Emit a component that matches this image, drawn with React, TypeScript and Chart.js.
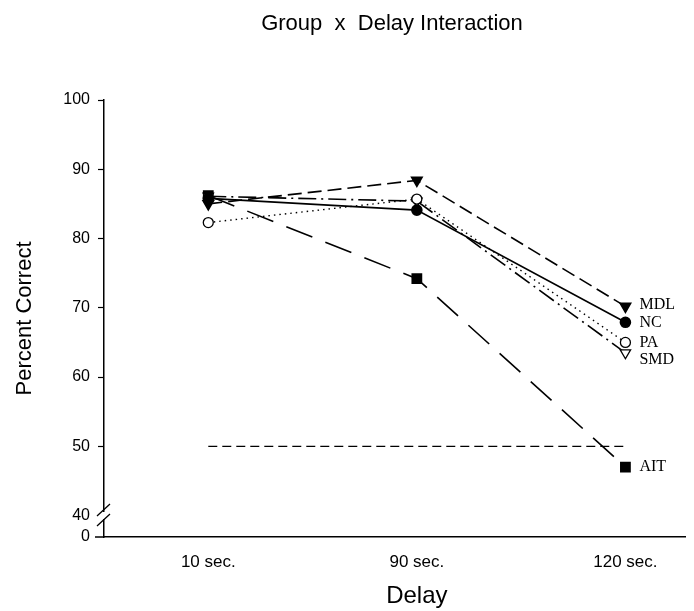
import React, { useEffect, useRef } from "react";
import { Chart, registerables } from "chart.js";

Chart.register(...registerables);

const categories = ["10 sec.", "90 sec.", "120 sec."];
const seriesNames = ["MDL", "NC", "PA", "SMD", "AIT"];
const mdlValues = [85.0, 88.4, 70.2];
const ncValues = [85.8, 84.1, 67.9];
const paValues = [82.3, 85.7, 65.0];
const smdValues = [86.1, 85.4, 63.5];
const aitValues = [86.2, 74.2, 47.0];
const chanceValues = [50, 50, 50];
const yTickValues = [40, 50, 60, 70, 80, 90, 100];
const breakLabel = "0";
const titleText = "Group  x  Delay Interaction";
const xTitleText = "Delay";
const yTitleText = "Percent Correct";

const SANS = "'Liberation Sans', Arial, sans-serif";
const SERIF = "'Liberation Serif', 'Times New Roman', serif";
const Y_MIN = 36.9;

const toPts = (arr: number[]) => arr.map((v, i) => ({ x: i, y: v }));

export default function App() {
  const ref = useRef<HTMLCanvasElement | null>(null);

  useEffect(() => {
    if (!ref.current) return;

    const labelOffsets: Record<string, number> = { MDL: -2, NC: 0, PA: 0, SMD: 7, AIT: 0 };

    const overlay = {
      id: "overlay",
      afterDraw(chart: any) {
        const ctx = chart.ctx;
        const area = chart.chartArea;
        const xs = chart.scales.x;
        const ys = chart.scales.y;
        ctx.save();
        ctx.fillStyle = "#000";
        // title
        ctx.font = `22px ${SANS}`;
        ctx.textAlign = "center";
        ctx.textBaseline = "alphabetic";
        ctx.fillText(titleText, 392, 30);
        // x title
        ctx.font = `24px ${SANS}`;
        ctx.fillText(xTitleText, xs.getPixelForValue(1), 603);
        // series labels
        ctx.font = `16px ${SERIF}`;
        ctx.textAlign = "left";
        ctx.textBaseline = "middle";
        const series = [mdlValues, ncValues, paValues, smdValues, aitValues];
        series.forEach((vals, i) => {
          const last = vals.length - 1;
          const px = xs.getPixelForValue(last) + 14;
          const py = ys.getPixelForValue(vals[last]) + (labelOffsets[seriesNames[i]] || 0);
          ctx.fillText(seriesNames[i], px, py);
        });
        // axis break
        const b = area.bottom;
        const l = area.left;
        ctx.fillStyle = "#fff";
        ctx.fillRect(l - 2, b - 25, 4, 7);
        ctx.strokeStyle = "#000";
        ctx.lineWidth = 1.3;
        ctx.beginPath();
        ctx.moveTo(l - 7, b - 21);
        ctx.lineTo(l + 6, b - 33);
        ctx.moveTo(l - 7, b - 11);
        ctx.lineTo(l + 6, b - 23);
        ctx.stroke();
        // x-axis stub left of y-axis
        ctx.lineWidth = 1.5;
        ctx.beginPath();
        ctx.moveTo(l - 9, b);
        ctx.lineTo(l, b);
        ctx.stroke();
        ctx.restore();
      },
    };

    const chart = new Chart(ref.current, {
      type: "line",
      data: {
        datasets: [
          {
            label: "MDL",
            data: toPts(mdlValues),
            borderColor: "#000",
            borderWidth: 1.6,
            borderDash: [14, 6],
            pointStyle: "triangle",
            pointRotation: 180,
            pointRadius: 6,
            backgroundColor: "#000",
            pointBackgroundColor: "#000",
            pointBorderColor: "#000",
          },
          {
            label: "NC",
            data: toPts(ncValues),
            borderColor: "#000",
            borderWidth: 1.6,
            pointStyle: "circle",
            pointRadius: 5,
            backgroundColor: "#000",
            pointBackgroundColor: "#000",
            pointBorderColor: "#000",
          },
          {
            label: "PA",
            data: toPts(paValues),
            borderColor: "#000",
            borderWidth: 1.4,
            borderDash: [1.5, 4],
            pointStyle: "circle",
            pointRadius: 5,
            pointBorderWidth: 1.3,
            backgroundColor: "#fff",
            pointBackgroundColor: "#fff",
            pointBorderColor: "#000",
          },
          {
            label: "SMD",
            data: toPts(smdValues),
            borderColor: "#000",
            borderWidth: 1.6,
            borderDash: [18, 5, 2, 5],
            pointStyle: "triangle",
            pointRotation: 180,
            pointRadius: 6,
            pointBorderWidth: 1.3,
            backgroundColor: "#fff",
            pointBackgroundColor: "#fff",
            pointBorderColor: "#000",
          },
          {
            label: "AIT",
            data: toPts(aitValues),
            borderColor: "#000",
            borderWidth: 1.6,
            borderDash: [28, 14],
            pointStyle: "rect",
            pointRadius: 6.5,
            backgroundColor: "#000",
            pointBackgroundColor: "#000",
            pointBorderColor: "#000",
          },
          {
            label: "chance",
            data: [
              { x: 0, y: chanceValues[0] },
              { x: categories.length - 1, y: chanceValues[categories.length - 1] },
            ],
            borderColor: "#000",
            borderWidth: 1.2,
            borderDash: [9, 5],
            pointRadius: 0,
          },
        ],
      },
      options: {
        responsive: false,
        animation: false,
        events: [],
        layout: { padding: { top: 100, right: 6, left: 0, bottom: 0 } },
        plugins: {
          legend: { display: false },
          title: { display: false },
          tooltip: { enabled: false },
        },
        scales: {
          x: {
            type: "linear",
            min: -0.5,
            max: 2.29,
            afterBuildTicks: (scale: any) => {
              scale.ticks = categories.map((_, i) => ({ value: i }));
            },
            afterFit: (scale: any) => {
              scale.height = 74;
            },
            ticks: {
              callback: (v: any) => categories[v] ?? "",
              color: "#000",
              font: { family: SANS, size: 17 },
              padding: 15,
              maxRotation: 0,
              autoSkip: false,
            },
            grid: { display: false, drawTicks: false },
            border: { display: true, color: "#000", width: 1.5 },
          },
          y: {
            type: "linear",
            min: Y_MIN,
            max: 100,
            afterBuildTicks: (scale: any) => {
              scale.ticks = [Y_MIN, ...yTickValues].map((v) => ({ value: v }));
            },
            afterFit: (scale: any) => {
              scale.width = 104;
            },
            ticks: {
              callback: (v: any) => (v === Y_MIN ? breakLabel : String(v)),
              color: "#000",
              font: { family: SANS, size: 16 },
              padding: 8,
              autoSkip: false,
            },
            grid: {
              drawOnChartArea: false,
              drawTicks: true,
              tickLength: 6,
              tickWidth: 1.2,
              tickColor: (c: any) => (c.tick && c.tick.value < 45 ? "rgba(0,0,0,0)" : "#000"),
            },
            border: { display: true, color: "#000", width: 1.5 },
            title: {
              display: true,
              text: yTitleText,
              color: "#000",
              font: { family: SANS, size: 22 },
              padding: { top: 12, bottom: 0 },
            },
          },
        },
      },
      plugins: [overlay],
    } as any);

    return () => chart.destroy();
  }, []);

  return (
    <div style={{ position: "absolute", left: 0, top: 0, width: 694, height: 611, background: "#fff" }}>
      <canvas ref={ref} width={694} height={611} style={{ width: 694, height: 611 }} />
    </div>
  );
}
